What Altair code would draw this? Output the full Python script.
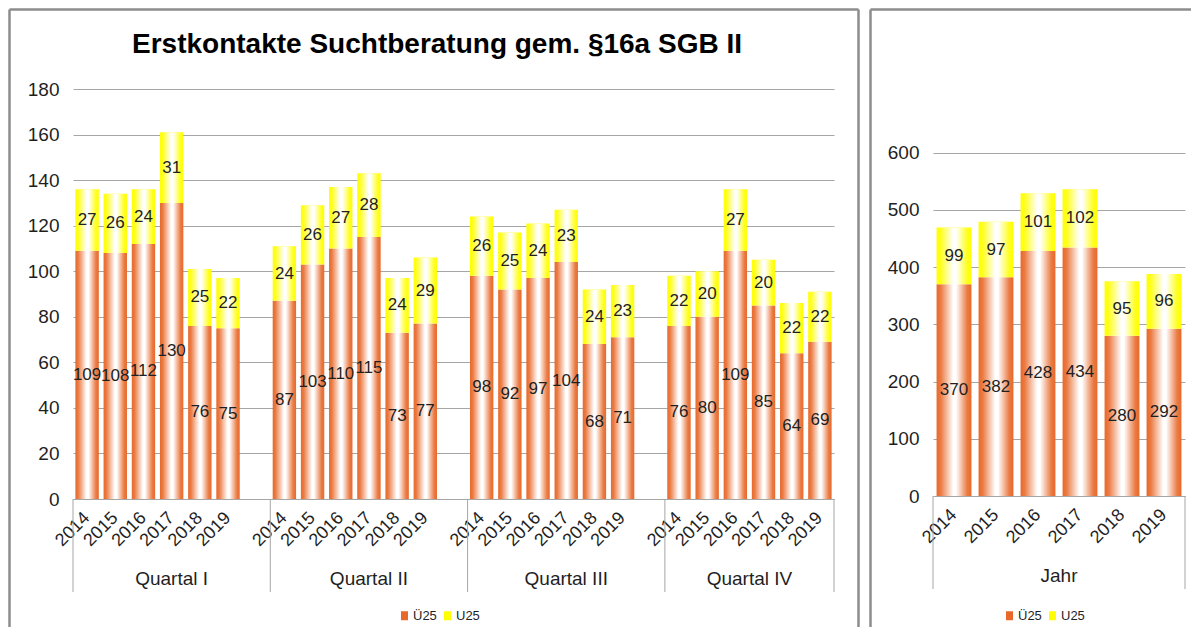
import altair as alt
import pandas as pd

# ---------------- data ----------------
quarters = ["Quartal I", "Quartal II", "Quartal III", "Quartal IV"]
years = ["2014", "2015", "2016", "2017", "2018", "2019"]
series = ["Ü25", "U25"]
ue25_q = [
    [109, 108, 112, 130, 76, 75],
    [87, 103, 110, 115, 73, 77],
    [98, 92, 97, 104, 68, 71],
    [76, 80, 109, 85, 64, 69],
]
u25_q = [
    [27, 26, 24, 31, 25, 22],
    [24, 26, 27, 28, 24, 29],
    [26, 25, 24, 23, 24, 23],
    [22, 20, 27, 20, 22, 22],
]
ue25_year = [370, 382, 428, 434, 280, 292]
u25_year = [99, 97, 101, 102, 95, 96]
title_text = "Erstkontakte Suchtberatung gem. §16a SGB II"
year_axis_label = "Jahr"
left_ticks = list(range(0, 181, 20))
right_ticks = list(range(0, 601, 100))

# ---------------- styles ----------------
FONT = "Liberation Sans"
ORANGE = "#E8692A"
YELLOW = "#FFFF00"
GRID = "#A6A6A6"
FRAME = "#8C8C8C"
TXT = "#1F1F1F"
FW = 2.5

shine = alt.Gradient(
    gradient="linear", x1=0, x2=1, y1=0, y2=0,
    stops=[
        alt.GradientStop(offset=0, color="rgba(255,255,255,0)"),
        alt.GradientStop(offset=0.12, color="rgba(255,255,255,0.12)"),
        alt.GradientStop(offset=0.48, color="rgba(255,255,255,1)"),
        alt.GradientStop(offset=0.56, color="rgba(255,255,255,1)"),
        alt.GradientStop(offset=0.88, color="rgba(255,255,255,0.12)"),
        alt.GradientStop(offset=1, color="rgba(255,255,255,0)"),
    ],
)
BANDW = alt.RelativeBandSize(0.83)
SYMBOL = "M-0.7,-0.9H0.7V0.9H-0.7Z"

# ---------------- tables ----------------
rows = []
domain_left = []
for qi, q in enumerate(quarters):
    for yi, y in enumerate(years):
        key = f"{q}|{y}"
        domain_left.append(key)
        rows.append(dict(key=key, series=series[0], value=ue25_q[qi][yi], order=0))
        rows.append(dict(key=key, series=series[1], value=u25_q[qi][yi], order=1))
    if qi < len(quarters) - 1:
        domain_left.append(f"{q}|")
df_left = pd.DataFrame(rows)

rows_r = []
for yi, y in enumerate(years):
    key = f"Jahr|{y}"
    rows_r.append(dict(key=key, series=series[0], value=ue25_year[yi], order=0))
    rows_r.append(dict(key=key, series=series[1], value=u25_year[yi], order=1))
df_right = pd.DataFrame(rows_r)
domain_right = [f"Jahr|{y}" for y in years]

FT = -79.5  # frame top relative to the plot top
FB = 538    # frame bottom (runs out of the picture)


def panel(df, domain, ymax, ticks, W, H, legend_xy, frame, group_starts,
          group_end, labels_mid, labels_start, frame_right=True):
    xscale = alt.Scale(domain=domain, paddingInner=0, paddingOuter=0)
    yscale = alt.Scale(domain=[0, ymax], nice=False, zero=True)
    x_axis = alt.Axis(
        labelExpr="split(datum.value, '|')[1]", labelAngle=-45,
        labelAlign="right", labelBaseline="middle", labelPadding=16,
        ticks=False, domain=True, domainColor=GRID, domainWidth=1,
        grid=False, labelFontSize=18, labelColor=TXT, labelOverlap=False,
        labelFont=FONT,
    )
    y_axis = alt.Axis(
        values=ticks, domain=False, ticks=False, gridColor=GRID,
        gridWidth=1, labelPadding=14, labelFontSize=19,
        labelColor=TXT, labelFont=FONT,
    )

    def X(bp=None):
        if bp is None:
            return alt.X("key:N", scale=xscale, title=None, axis=x_axis)
        return alt.X("key:N", scale=xscale, title=None, axis=x_axis, bandPosition=bp)

    def Y(f):
        return alt.Y(f, scale=yscale, title=None, axis=y_axis)

    base = alt.Chart(df)
    stacked = base.transform_stack(
        stack="value", groupby=["key"], as_=["y0", "y1"],
        sort=[alt.SortField("order", order="ascending")],
    )
    bars = stacked.mark_bar(width=BANDW).encode(
        x=X(),
        y=Y("y0:Q"),
        y2="y1:Q",
        color=alt.Color(
            "series:N",
            scale=alt.Scale(domain=series, range=[ORANGE, YELLOW]),
            legend=alt.Legend(
                orient="none", legendX=legend_xy[0], legendY=legend_xy[1],
                direction="horizontal", title=None, symbolType=SYMBOL,
                symbolSize=100, symbolStrokeWidth=0, labelFontSize=13,
                labelColor=TXT, labelFont=FONT, columnPadding=4,
                labelOffset=2,
            ),
        ),
        order=alt.Order("order:Q"),
    )
    overlay = base.mark_bar(width=BANDW, fill=shine).encode(
        x=X(), y=Y("sum(value):Q")
    )
    labels = stacked.transform_calculate(
        mid="(datum.y0 + datum.y1) / 2"
    ).mark_text(fontSize=17, color=TXT, font=FONT, baseline="middle").encode(
        x=X(), y=Y("mid:Q"), text="value:Q"
    )
    sep = alt.Chart(pd.DataFrame({"key": group_starts})).mark_rule(
        color=GRID, strokeWidth=1
    ).encode(x=X(0), y=alt.value(H), y2=alt.value(H + 93))
    sep_end = alt.Chart(pd.DataFrame({"key": [group_end]})).mark_rule(
        color=GRID, strokeWidth=1
    ).encode(x=X(1), y=alt.value(H), y2=alt.value(H + 93))
    layers = [bars, overlay, labels, sep, sep_end]
    if labels_mid:
        layers.append(
            alt.Chart(pd.DataFrame(labels_mid, columns=["key", "label"]))
            .mark_text(fontSize=19, color=TXT, font=FONT, baseline="middle")
            .encode(x=X(0.5), y=alt.value(H + 80), text="label:N")
        )
    if labels_start:
        layers.append(
            alt.Chart(pd.DataFrame(labels_start, columns=["key", "label"]))
            .mark_text(fontSize=19, color=TXT, font=FONT, baseline="middle")
            .encode(x=X(0), y=alt.value(H + 80), text="label:N")
        )
    fl, ft, fr, fb = frame
    one = pd.DataFrame({"k": [0]})
    layers.append(alt.Chart(one).mark_rule(color=FRAME, strokeWidth=FW).encode(
        x=alt.value(fl), y=alt.value(ft), y2=alt.value(fb)))
    layers.append(alt.Chart(one).mark_rule(color=FRAME, strokeWidth=FW).encode(
        x=alt.value(fl), x2=alt.value(fr), y=alt.value(ft)))
    if frame_right:
        layers.append(alt.Chart(one).mark_rule(color=FRAME, strokeWidth=FW).encode(
            x=alt.value(fr), y=alt.value(ft), y2=alt.value(fb)))
    return layers


WL, HL = 761, 410
left_layers = panel(
    df_left, domain_left, 180, left_ticks, WL, HL,
    legend_xy=(325, 520),
    frame=(-63.5, FT, WL + 24.5, FB),
    group_starts=[f"{q}|{years[0]}" for q in quarters],
    group_end=f"{quarters[-1]}|{years[-1]}",
    labels_mid=[(f"{q}|{years[3]}", q) for q in quarters[:-1]],
    labels_start=[(f"{quarters[-1]}|{years[3]}", quarters[-1])],
)
left_layers.append(
    alt.Chart(pd.DataFrame({"t": [title_text]}))
    .mark_text(fontSize=28, fontWeight="bold", color="#000000", font=FONT,
               baseline="middle", align="center")
    .encode(x=alt.value(364), y=alt.value(-44), text="t:N")
)
left = alt.layer(*left_layers).properties(width=WL, height=HL)

WR, HR = 252, 407
right_layers = panel(
    df_right, domain_right, 711, right_ticks, WR, HR,
    legend_xy=(70, 520),
    frame=(-62.5, FT, WR + 6, FB),
    group_starts=[domain_right[0]],
    group_end=domain_right[-1],
    labels_mid=None,
    labels_start=[(domain_right[3], year_axis_label)],
    frame_right=False,
)
right = alt.layer(*right_layers).properties(width=WR, height=HR)

chart = (
    alt.hconcat(left, right, spacing=9)
    .resolve_scale(color="independent")
    .properties(padding={"left": 0, "top": 0, "right": 0, "bottom": 0})
    .configure(font=FONT)
    .configure_view(stroke=None)
)

chart.save("out.html", embed_options={"renderer": "svg", "actions": False})
